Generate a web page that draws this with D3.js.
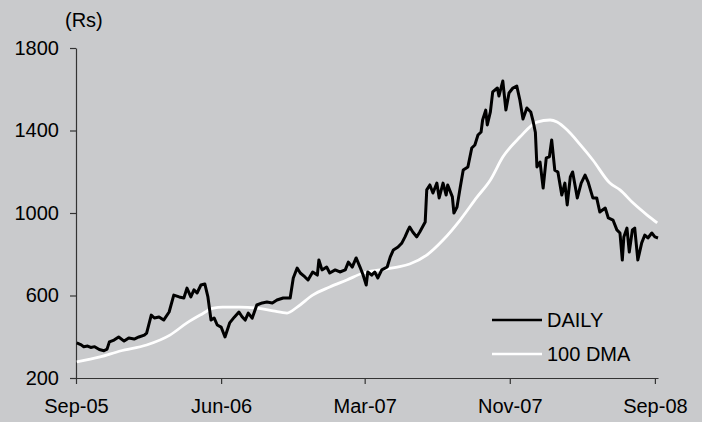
<!DOCTYPE html>
<html>
<head>
<meta charset="utf-8">
<script src="https://cdn.jsdelivr.net/npm/d3@7"></script>
<style>
  html, body { margin: 0; padding: 0; background: #c9cacc; }
  svg { display: block; }
  text { font-family: "Liberation Sans", Arial, sans-serif; fill: #000; }
</style>
</head>
<body>
<svg id="chart" width="702" height="422"></svg>
<script>
// Trading-day index (0 = Sep-05) and closing price (Rs)
const daily = [
  [1,370],[6,362],[10,352],[15,355],[19,348],[24,352],[30,338],[36,332],[40,340],[43,375],
  [49,384],[55,399],[62,379],[68,394],[75,389],[81,399],[88,408],[91,418],[97,505],[101,491],
  [107,496],[113,481],[120,520],[126,602],[133,593],[139,588],[143,636],[148,593],[152,627],[156,612],
  [161,651],[166,656],[170,593],[174,481],[178,491],[182,457],[187,447],[192,399],[198,467],[204,495],
  [210,520],[214,497],[218,481],[222,515],[227,490],[233,554],[240,564],[246,568],[253,564],[259,578],
  [267,588],[276,588],[280,685],[285,733],[289,709],[295,690],[299,675],[305,714],[311,699],[313,772],
  [317,724],[323,738],[327,709],[334,724],[340,714],[347,724],[351,762],[356,738],[361,782],[366,738],
  [370,699],[374,651],[376,714],[381,699],[385,714],[389,685],[394,724],[401,738],[405,787],[409,821],
  [415,835],[420,855],[424,884],[428,918],[430,932],[434,908],[439,884],[443,908],[450,956],[452,1112],
  [456,1136],[460,1097],[465,1145],[468,1073],[473,1145],[477,1087],[479,1136],[485,1078],[487,1000],[491,1029],
  [495,1121],[499,1208],[505,1223],[510,1315],[514,1330],[518,1378],[522,1393],[524,1451],[528,1499],[530,1427],
  [534,1490],[537,1587],[543,1606],[545,1567],[550,1640],[554,1499],[558,1582],[563,1606],[568,1616],[572,1548],
  [576,1456],[581,1509],[586,1490],[589,1446],[592,1390],[594,1223],[598,1247],[602,1121],[606,1267],[610,1272],
  [613,1354],[617,1208],[621,1199],[626,1087],[630,1145],[633,1039],[637,1175],[640,1199],[646,1073],[651,1145],
  [656,1184],[660,1150],[666,1073],[671,1073],[675,1005],[682,1024],[686,976],[692,966],[697,918],[701,903],
  [704,772],[706,884],[710,927],[713,811],[717,918],[720,927],[724,772],[729,855],[733,893],[737,879],
  [742,903],[746,884],[750,879]
];
// 100-day moving average
const dma = [
  [1,278],[31,302],[57,331],[91,360],[121,408],[143,467],[160,505],[177,539],[189,544],[211,544],
  [233,539],[254,525],[272,515],[285,544],[305,602],[327,641],[349,675],[370,709],[392,724],[414,738],
  [430,753],[452,796],[473,869],[495,966],[517,1078],[534,1160],[550,1271],[572,1368],[594,1441],[611,1451],
  [620,1441],[633,1402],[650,1330],[666,1257],[688,1145],[701,1112],[718,1048],[736,990],[749,952]
];
const xTickDays = [0, 187, 372, 559, 746];
const xTickLabels = ["Sep-05", "Jun-06", "Mar-07", "Nov-07", "Sep-08"];
const yTicks = [200, 600, 1000, 1400, 1800];
const seriesNames = ["DAILY", "100 DMA"];
const seriesColors = ["#000000", "#ffffff"];

const svg = d3.select("#chart");
const x = d3.scaleLinear().domain([0, 750]).range([76, 658]);
const y = d3.scaleLinear().domain([200, 1800]).range([378, 48]);

// axes
const xAxis = d3.axisBottom(x).tickValues(xTickDays)
  .tickFormat((d, i) => xTickLabels[i]).tickSize(6).tickPadding(15).tickSizeOuter(0);
const yAxis = d3.axisLeft(y).tickValues(yTicks).tickFormat(d3.format("d"))
  .tickSize(6).tickPadding(11).tickSizeOuter(0);

const gx = svg.append("g").attr("transform", "translate(0,378)").call(xAxis);
const gy = svg.append("g").attr("transform", "translate(76,0)").call(yAxis);
[gx, gy].forEach(g => {
  g.select(".domain").attr("stroke", "#333").attr("stroke-width", 1.2);
  g.selectAll(".tick line").attr("stroke", "#333").attr("stroke-width", 1.2);
  g.selectAll(".tick text").attr("font-size", 20).attr("fill", "#000")
    .attr("font-family", "Liberation Sans, Arial, sans-serif");
});

svg.append("text").attr("x", 65).attr("y", 27).attr("font-size", 20).text("(Rs)");

// lines
const line = d3.line().x(d => x(d[0])).y(d => y(d[1]));
const smooth = d3.line().x(d => x(d[0])).y(d => y(d[1])).curve(d3.curveMonotoneX);

svg.append("path").datum(dma).attr("d", smooth)
  .attr("fill", "none").attr("stroke", seriesColors[1]).attr("stroke-width", 2.8)
  .attr("stroke-linejoin", "round");
svg.append("path").datum(daily).attr("d", line)
  .attr("fill", "none").attr("stroke", seriesColors[0]).attr("stroke-width", 3)
  .attr("stroke-linejoin", "round");

// legend
const lg = svg.append("g");
seriesNames.forEach((name, i) => {
  const ly = 320 + i * 34;
  lg.append("line").attr("x1", 492).attr("x2", 542).attr("y1", ly).attr("y2", ly)
    .attr("stroke", seriesColors[i]).attr("stroke-width", 2.6);
  lg.append("text").attr("x", 547).attr("y", ly).attr("dy", "0.35em")
    .attr("font-size", 20).text(name);
});
</script>
</body>
</html>
